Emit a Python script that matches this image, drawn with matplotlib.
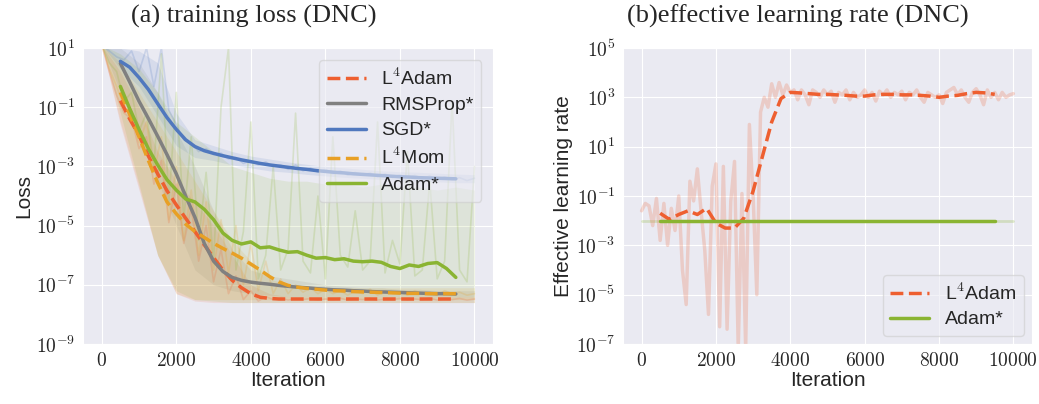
import numpy as np
import matplotlib
matplotlib.use('Agg')
import matplotlib.pyplot as plt
import seaborn as sns
from matplotlib.ticker import FuncFormatter

sns.set_style('darkgrid')
plt.rcParams['font.family'] = ['Liberation Sans', 'DejaVu Sans']
plt.rcParams['mathtext.fontset'] = 'cm'

# ---- data (log10 values) ----
raw_x = np.arange(0, 10001, 200)
band_x = np.arange(0, 10001, 500)
smooth_x = np.arange(500, 9501, 250)

# (a) smoothed training loss, log10
l4adam_loss = [-0.78, -1.4, -1.95, -2.65, -3.25, -3.82, -4.3, -4.75, -5.2, -5.65,
               -6.08, -6.5, -6.85, -7.1, -7.3, -7.42, -7.46, -7.48, -7.48, -7.48,
               -7.48, -7.48, -7.48, -7.48, -7.48, -7.48, -7.48, -7.48, -7.48, -7.48,
               -7.48, -7.48, -7.48, -7.48, -7.48, -7.48, -7.48]
rmsprop_loss = [0.48, -0.15, -0.8, -1.38, -1.98, -2.6, -3.25, -4.0, -4.72, -5.6,
                -6.2, -6.55, -6.75, -6.85, -6.91, -6.95, -6.98, -7.02, -7.05, -7.08,
                -7.1, -7.13, -7.15, -7.17, -7.18, -7.2, -7.21, -7.23, -7.24, -7.25,
                -7.26, -7.27, -7.28, -7.29, -7.3, -7.3, -7.31]
sgd_loss = [0.55, 0.35, 0.0, -0.4, -0.88, -1.35, -1.75, -2.1, -2.33, -2.47,
            -2.56, -2.64, -2.71, -2.78, -2.84, -2.9, -2.95, -2.99, -3.03, -3.07,
            -3.1, -3.14, -3.17, -3.2, -3.22, -3.25, -3.27, -3.29, -3.31, -3.33,
            -3.35, -3.36, -3.38, -3.39, -3.4, -3.41, -3.42]
l4mom_loss = [-0.5, -1.25, -2.0, -2.8, -3.55, -4.2, -4.6, -4.95, -5.2, -5.4,
              -5.6, -5.77, -5.93, -6.1, -6.3, -6.5, -6.72, -6.9, -7.02, -7.08,
              -7.12, -7.15, -7.18, -7.2, -7.21, -7.23, -7.24, -7.25, -7.26, -7.27,
              -7.28, -7.29, -7.29, -7.3, -7.3, -7.3, -7.3]
adam_loss = [-0.3, -1.05, -1.75, -2.4, -2.95, -3.45, -3.8, -4.1, -4.2, -4.45,
             -4.8, -5.25, -5.5, -5.62, -5.55, -5.75, -5.72, -5.82, -5.9, -5.88,
             -6.0, -6.1, -6.08, -6.15, -6.12, -6.2, -6.22, -6.2, -6.24, -6.38,
             -6.45, -6.33, -6.38, -6.28, -6.25, -6.45, -6.75]

# (a) spread of the runs (faded bands), log10, every 500 iterations
l4adam_lo = [1.1, -1.6, -3.8, -6.0, -7.3, -7.55, -7.6, -7.6, -7.6, -7.6, -7.6,
             -7.6, -7.6, -7.6, -7.6, -7.6, -7.6, -7.6, -7.6, -7.6, -7.6]
l4adam_hi = [1.1, 0.2, -1.0, -2.5, -3.5, -4.2, -5.0, -6.0, -7.0, -7.3, -7.4,
             -7.4, -7.4, -7.4, -7.4, -7.4, -7.4, -7.4, -7.4, -7.4, -7.4]
rmsprop_lo = [1.1, -0.5, -2.0, -3.5, -5.0, -6.5, -7.0, -7.2, -7.3, -7.35, -7.4,
              -7.4, -7.4, -7.4, -7.4, -7.4, -7.4, -7.4, -7.4, -7.4, -7.4]
rmsprop_hi = [1.1, 1.0, 0.5, -0.5, -1.8, -3.0, -4.5, -5.8, -6.5, -6.7, -6.8,
              -6.9, -7.0, -7.05, -7.1, -7.1, -7.15, -7.15, -7.2, -7.2, -7.2]
sgd_lo = [1.1, 0.3, -0.3, -1.3, -2.3, -2.7, -2.8, -2.95, -3.05, -3.15, -3.2,
          -3.27, -3.32, -3.37, -3.4, -3.44, -3.47, -3.5, -3.52, -3.55, -3.55]
sgd_hi = [1.1, 1.0, 0.9, 0.5, -1.2, -2.1, -2.3, -2.5, -2.65, -2.75, -2.85,
          -2.93, -3.0, -3.05, -3.1, -3.15, -3.18, -3.2, -3.23, -3.26, -3.28]
l4mom_lo = [1.1, -1.5, -3.7, -6.0, -7.3, -7.5, -7.5, -7.5, -7.5, -7.5, -7.5,
            -7.5, -7.5, -7.5, -7.5, -7.5, -7.5, -7.5, -7.5, -7.5, -7.5]
l4mom_hi = [1.1, 0.5, -0.5, -1.5, -2.5, -3.5, -4.5, -5.5, -6.2, -6.8, -7.0,
            -7.05, -7.1, -7.1, -7.1, -7.1, -7.1, -7.1, -7.1, -7.1, -7.1]
adam_lo = [1.1, -1.2, -3.6, -6.0, -7.2, -7.5, -7.55, -7.6, -7.6, -7.6, -7.6,
           -7.6, -7.6, -7.6, -7.6, -7.6, -7.6, -7.6, -7.6, -7.6, -7.6]
adam_hi = [1.1, 0.8, 0.3, -0.5, -1.5, -2.0, -2.5, -3.0, -3.2, -3.4, -3.5,
           -3.5, -3.6, -3.6, -3.7, -3.6, -3.7, -3.7, -3.8, -3.7, -3.8]

# (a) single noisy runs, log10, every 200 iterations
l4adam_raw = [1.1, 0.2, -0.6, -1.2, -1.4, -2.4, -2.0, -3.6, -2.8, -4.9,
              -3.6, -5.6, -4.4, -6.2, -5.0, -6.9, -5.8, -7.3, -6.7, -7.5,
              -7.2, -7.55, -7.4, -7.5, -7.45, -7.52, -7.47, -7.5, -7.46, -7.52,
              -7.48, -7.5, -7.45, -7.52, -7.48, -7.5, -7.46, -7.52, -7.48, -7.5,
              -7.46, -7.52, -7.48, -7.5, -7.45, -7.52, -7.48, -7.5, -7.46, -7.52, -7.48]
sgd_raw = [1.1, 0.9, 0.7, 0.6, 0.9, 0.2, 1.0, -0.3, 1.0, -1.1,
           -1.6, -2.1, -2.2, -2.5, -2.4, -2.6, -2.55, -2.75, -2.7, -2.9,
           -2.8, -2.95, -2.85, -3.0, -2.95, -3.1, -2.95, -3.15, -3.05, -3.2,
           -3.1, -3.25, -3.15, -3.3, -3.2, -3.3, -3.22, -3.35, -3.25, -3.38,
           -3.28, -3.4, -3.3, -3.42, -3.32, -3.45, -3.35, -3.45, -3.38, -3.48, -3.4]
l4mom_raw = [1.1, 0.3, -0.3, -1.0, -1.2, -2.2, -1.5, -3.2, -2.0, -4.8,
             -3.0, -5.5, -3.8, -6.0, -4.2, -6.5, -4.8, -6.6, -5.0, -7.0,
             -5.6, -7.2, -6.2, -7.3, -6.8, -7.3, -7.0, -7.25, -7.1, -7.3,
             -7.15, -7.3, -7.2, -7.35, -7.2, -7.3, -7.15, -7.35, -7.2, -7.3,
             -7.25, -7.35, -7.2, -7.3, -7.25, -7.35, -7.2, -7.3, -7.25, -7.35, -7.3]
adam_raw = [1.1, 0.5, 0.2, -0.8, -0.5, -1.8, -1.2, -3.0, 0.8, -4.2,
            -0.5, -4.8, -2.0, -5.5, -3.2, -6.2, -1.0, 1.0, -6.5, -5.2,
            -1.5, -6.8, -6.0, -3.0, -6.5, -5.8, -1.2, -6.2, -6.6, -4.0,
            -6.8, -2.0, -6.0, -6.4, -4.5, -6.5, -6.2, -1.5, -6.6, -5.5,
            -6.3, -2.5, -6.7, -6.5, -3.5, -6.8, -6.2, -0.8, -6.5, -6.9, -3.0]

# (b) effective learning rate, log10
lr_raw_x = np.arange(0, 10001, 100)
l4adam_lr_raw = [-1.6, -1.3, -1.4, -2.2, -1.1, -2.8, -1.3, -3.0, -1.5, -2.4,
                 -1.0, -4.0, -5.4, -0.4, -1.2, 0.1, -1.6, -3.2, -5.8, -0.6,
                 0.3, -6.3, 0.2, -6.4, -1.2, 0.4, -7.2, -0.9, -7.2, 1.9,
                 -1.0, -5.0, 2.4, 3.0, 2.6, 3.55, 3.0, 3.6, 3.1, 3.5,
                 3.2, 3.3, 2.9, 3.3, 3.1, 2.7, 3.3, 3.2, 3.0, 3.3,
                 3.1, 3.25, 2.8, 3.2, 3.1, 3.3, 2.9, 3.2, 3.0, 3.1,
                 3.3, 3.0, 3.2, 2.85, 3.25, 3.1, 3.3, 3.0, 3.2, 3.1,
                 3.25, 2.9, 3.2, 3.1, 3.3, 3.0, 2.8, 3.2, 3.1, 3.0,
                 3.1, 2.75, 3.2, 3.3, 3.4, 3.1, 3.3, 3.0, 2.8, 3.2,
                 3.35, 3.1, 2.7, 3.3, 3.0, 3.2, 2.9, 3.2, 3.0, 3.1, 3.15]
l4adam_lr = [-1.7, -1.95, -1.75, -1.6, -1.75, -1.5, -2.1, -2.3, -2.3, -1.9,
             -0.8, 0.6, 2.0, 2.95, 3.2, 3.18, 3.15, 3.12, 3.12, 3.1,
             3.08, 3.05, 3.05, 3.1, 3.12, 3.12, 3.1, 3.1, 3.08, 3.05,
             3.0, 3.05, 3.08, 3.15, 3.2, 3.18, 3.12]
adam_lr = [-2.0] * len(smooth_x)
adam_lr_raw = [-2.0] * len(lr_raw_x)

c_red = '#EE5F30'
c_gray = '#808080'
c_blue = '#5078BE'
c_orange = '#E8A025'
c_green = '#8AB432'

fig = plt.figure(figsize=(10.39, 4.04), dpi=100)
ax1 = fig.add_axes([0.080, 0.1485, 0.3946, 0.7327])
ax2 = fig.add_axes([0.5996, 0.1485, 0.3936, 0.7327])

bands = [
    (l4adam_lo, l4adam_hi, c_red),
    (rmsprop_lo, rmsprop_hi, c_gray),
    (sgd_lo, sgd_hi, c_blue),
    (l4mom_lo, l4mom_hi, c_orange),
    (adam_lo, adam_hi, c_green),
]
for lo, hi, col in bands:
    ax1.fill_between(band_x, 10.0 ** np.array(lo), 10.0 ** np.array(hi),
                     color=col, alpha=0.13, lw=0)

for raw, col in [(l4adam_raw, c_red), (sgd_raw, c_blue),
                 (l4mom_raw, c_orange), (adam_raw, c_green)]:
    ax1.plot(raw_x, 10.0 ** np.array(raw), color=col, alpha=0.2, lw=1.2)

series = [
    ('L$^4$Adam', l4adam_loss, c_red, '--'),
    ('RMSProp*', rmsprop_loss, c_gray, '-'),
    ('SGD*', sgd_loss, c_blue, '-'),
    ('L$^4$Mom', l4mom_loss, c_orange, '--'),
    ('Adam*', adam_loss, c_green, '-'),
]
for name, sm, col, ls in series:
    ax1.plot(smooth_x, 10.0 ** np.array(sm), color=col, ls=ls, lw=2.5, label=name)

ax2.plot(lr_raw_x, 10.0 ** np.array(adam_lr_raw), color=c_green, alpha=0.25, lw=2)
ax2.plot(lr_raw_x, 10.0 ** np.array(l4adam_lr_raw), color=c_red, alpha=0.22, lw=2.5)
ax2.plot(smooth_x, 10.0 ** np.array(l4adam_lr), color=c_red, ls='--', lw=2.5, label='L$^4$Adam')
ax2.plot(smooth_x, 10.0 ** np.array(adam_lr), color=c_green, lw=2.5, label='Adam*')

exp_fmt = FuncFormatter(lambda v, p: '$10^{%d}$' % int(round(np.log10(v))))
int_fmt = FuncFormatter(lambda v, p: '$%d$' % int(v))

for ax, lo, hi in [(ax1, -9, 1), (ax2, -7, 5)]:
    ax.set_yscale('log')
    ax.set_ylim(10.0 ** lo, 10.0 ** hi)
    ax.set_yticks([10.0 ** k for k in range(lo, hi + 1, 2)])
    ax.yaxis.set_major_formatter(exp_fmt)
    ax.yaxis.set_minor_locator(matplotlib.ticker.NullLocator())
    ax.set_xlim(-500, 10500)
    ax.set_xticks(range(0, 10001, 2000))
    ax.xaxis.set_major_formatter(int_fmt)
    ax.tick_params(labelsize=14, pad=2)
    ax.set_xlabel('Iteration', fontsize=15, labelpad=1)

ax1.set_ylabel('Loss', fontsize=15, labelpad=2)
ax2.set_ylabel('Effective learning rate', fontsize=15, labelpad=2)
ax1.set_title('(a) training loss (DNC)', fontsize=19, family='Liberation Serif',
              pad=18, x=0.416)
ax2.set_title('(b)effective learning rate (DNC)', fontsize=19, family='Liberation Serif',
              pad=18, x=0.427)

ax1.legend(loc='upper right', fontsize=14, handlelength=2.0, borderaxespad=0.6,
           labelspacing=0.4, framealpha=0.6)
ax2.legend(loc='lower right', fontsize=14, handlelength=2.0, borderaxespad=0.4,
           labelspacing=0.35, framealpha=0.6)

plt.savefig('out.png', dpi=100)
